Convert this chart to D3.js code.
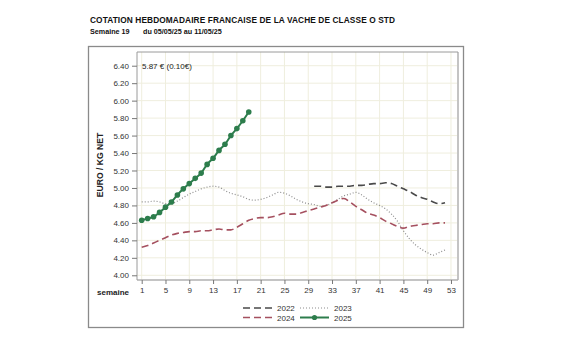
<!DOCTYPE html>
<html>
<head>
<meta charset="utf-8">
<script src="https://cdn.jsdelivr.net/npm/d3@7"></script>
<style>
  html, body { margin: 0; padding: 0; background: #fff; }
  svg { display: block; font-family: "Liberation Sans", Arial, sans-serif; }
</style>
</head>
<body>
<svg id="chart" width="563" height="350"></svg>
<script>
// Weekly price of O-grade cull cows, EUR per kg net (weeks 1..52)
const weeks = d3.range(1, 53);
const yTicks = [4.00, 4.20, 4.40, 4.60, 4.80, 5.00, 5.20, 5.40, 5.60, 5.80, 6.00, 6.20, 6.40];
const xTicks = [1, 5, 9, 13, 17, 21, 25, 29, 33, 37, 41, 45, 49, 53];

// 2022: quoted from week 30 onwards
const start2022 = 30;
const values2022 = [5.02, 5.02, 5.01, 5.01, 5.02, 5.02, 5.02, 5.03, 5.03, 5.04, 5.05, 5.05,
  5.06, 5.05, 5.02, 4.99, 4.96, 4.92, 4.89, 4.87, 4.84, 4.82, 4.83];

const values2023 = [4.84, 4.84, 4.85, 4.84, 4.82, 4.82, 4.85, 4.89, 4.93, 4.96, 4.99, 5.01, 5.02,
  5.01, 4.97, 4.94, 4.92, 4.90, 4.87, 4.86, 4.87, 4.89, 4.92, 4.95, 4.94, 4.91, 4.87, 4.84, 4.82,
  4.81, 4.79, 4.80, 4.83, 4.87, 4.91, 4.93, 4.95, 4.92, 4.87, 4.83, 4.80, 4.76, 4.70, 4.62, 4.51,
  4.42, 4.35, 4.30, 4.26, 4.23, 4.26, 4.29];

const values2024 = [4.32, 4.34, 4.37, 4.40, 4.43, 4.46, 4.48, 4.49, 4.50, 4.50, 4.51, 4.51, 4.52,
  4.53, 4.52, 4.52, 4.55, 4.59, 4.63, 4.65, 4.66, 4.66, 4.67, 4.69, 4.71, 4.70, 4.70, 4.72, 4.74,
  4.76, 4.78, 4.80, 4.83, 4.86, 4.88, 4.84, 4.79, 4.75, 4.71, 4.69, 4.66, 4.62, 4.59, 4.56, 4.54,
  4.56, 4.57, 4.58, 4.59, 4.59, 4.60, 4.60];

const values2025 = [4.63, 4.65, 4.67, 4.72, 4.78, 4.84, 4.92, 4.99, 5.05, 5.11, 5.17, 5.27, 5.34,
  5.43, 5.50, 5.60, 5.68, 5.77, 5.87];

const currentWeek = 19;
const currentPrice = values2025[values2025.length - 1];
const weeklyChange = currentPrice - values2025[values2025.length - 2];

const svg = d3.select("#chart");

// Titles
svg.append("text").attr("x", 90).attr("y", 23)
  .attr("font-size", 8.3).attr("font-weight", "bold").attr("fill", "#111")
  .attr("textLength", 305).attr("lengthAdjust", "spacing")
  .text("COTATION HEBDOMADAIRE FRANCAISE DE LA VACHE DE CLASSE O STD");
svg.append("text").attr("x", 90).attr("y", 34)
  .attr("font-size", 7.2).attr("font-weight", "bold").attr("fill", "#111")
  .text("Semaine " + currentWeek);
svg.append("text").attr("x", 143).attr("y", 34)
  .attr("font-size", 7.2).attr("font-weight", "bold").attr("fill", "#111")
  .text("du 05/05/25 au 11/05/25");

// Outer frame
svg.append("rect").attr("x", 88.5).attr("y", 46.5).attr("width", 375).attr("height", 281)
  .attr("fill", "none").attr("stroke", "#8a8a8a").attr("stroke-width", 1.3);

const plot = { left: 137, top: 52, right: 458, bottom: 280 };

const x = d3.scaleLinear().domain([0.21, 54.18]).range([plot.left, plot.right]);
const y = d3.scaleLinear().domain([3.946, 6.557]).range([plot.bottom, plot.top]);

// Grid
const grid = svg.append("g").attr("stroke", "#efeede").attr("stroke-width", 1);
grid.selectAll("line.v").data(xTicks).join("line")
  .attr("x1", d => x(d)).attr("x2", d => x(d))
  .attr("y1", plot.top).attr("y2", plot.bottom);
grid.selectAll("line.h").data(yTicks).join("line")
  .attr("x1", plot.left).attr("x2", plot.right)
  .attr("y1", d => y(d)).attr("y2", d => y(d));

// Plot frame
svg.append("line").attr("x1", plot.right).attr("x2", plot.right).attr("y1", plot.top).attr("y2", plot.bottom)
  .attr("stroke", "#c4c4c4").attr("stroke-width", 2);
svg.append("line").attr("x1", plot.left).attr("x2", plot.right).attr("y1", plot.bottom).attr("y2", plot.bottom)
  .attr("stroke", "#b0b0b0").attr("stroke-width", 1.5);
svg.append("line").attr("x1", plot.left).attr("x2", plot.right).attr("y1", plot.top).attr("y2", plot.top)
  .attr("stroke", "#9a9a9a").attr("stroke-width", 1);
svg.append("line").attr("x1", plot.left).attr("x2", plot.left).attr("y1", plot.top).attr("y2", plot.bottom)
  .attr("stroke", "#9a9a9a").attr("stroke-width", 1);

// Axes
const yAxis = d3.axisLeft(y).tickValues(yTicks).tickFormat(d3.format(".2f")).tickSize(5).tickPadding(3);
const gy = svg.append("g").attr("transform", `translate(${plot.left},0)`).call(yAxis);
gy.select(".domain").remove();
gy.selectAll("line").attr("stroke", "#777");
gy.selectAll("text").attr("font-size", 8).attr("fill", "#333").attr("font-family", "Liberation Sans, Arial, sans-serif");

const xAxis = d3.axisBottom(x).tickValues(xTicks).tickFormat(d3.format("d")).tickSize(4).tickPadding(3);
const gx = svg.append("g").attr("transform", `translate(0,${plot.bottom})`).call(xAxis);
gx.select(".domain").remove();
gx.selectAll("line").attr("stroke", "#777");
gx.selectAll("text").attr("font-size", 8).attr("fill", "#333").attr("font-family", "Liberation Sans, Arial, sans-serif");

svg.append("text").attr("x", 97).attr("y", 295)
  .attr("font-size", 8).attr("font-weight", "bold").attr("fill", "#222")
  .text("semaine");

svg.append("text")
  .attr("transform", `translate(103,${(plot.top + plot.bottom) / 2 - 1}) rotate(-90)`)
  .attr("text-anchor", "middle")
  .attr("font-size", 8.6).attr("font-weight", "bold").attr("fill", "#222")
  .text("EURO / KG NET");

// Series
const line = d3.line()
  .defined(d => d.v != null)
  .x(d => x(d.w)).y(d => y(d.v))
  .curve(d3.curveMonotoneX);

const s2022 = values2022.map((v, i) => ({ w: start2022 + i, v }));
const s2023 = values2023.map((v, i) => ({ w: weeks[i], v }));
const s2024 = values2024.map((v, i) => ({ w: weeks[i], v }));
const s2025 = values2025.map((v, i) => ({ w: weeks[i], v }));

const styles = {
  "2022": { color: "#4a4a4a", dash: "7,4", width: 1.6 },
  "2023": { color: "#8c8c8c", dash: "1,2", width: 1.2 },
  "2024": { color: "#a5505f", dash: "7,4", width: 1.6 },
  "2025": { color: "#2d7d4c", dash: null, width: 2 }
};

const lines = svg.append("g");
[["2022", s2022], ["2023", s2023], ["2024", s2024], ["2025", s2025]].forEach(([k, data]) => {
  const st = styles[k];
  lines.append("path").datum(data)
    .attr("fill", "none")
    .attr("stroke", st.color)
    .attr("stroke-width", st.width)
    .attr("stroke-dasharray", st.dash)
    .attr("d", line);
});

lines.selectAll("circle").data(s2025).join("circle")
  .attr("cx", d => x(d.w)).attr("cy", d => y(d.v)).attr("r", 2.8)
  .attr("fill", styles["2025"].color);

// Latest price annotation
svg.append("text").attr("x", 142).attr("y", 69)
  .attr("font-size", 8).attr("fill", "#222")
  .text(`${currentPrice.toFixed(2)} € (${weeklyChange.toFixed(2)}€)`);

// Legend
const legendItems = [
  { k: "2022", col: 0, row: 0 },
  { k: "2023", col: 1, row: 0 },
  { k: "2024", col: 0, row: 1 },
  { k: "2025", col: 1, row: 1 }
];
const legend = svg.append("g");
legendItems.forEach(it => {
  const st = styles[it.k];
  const lx = 243 + it.col * 57;
  const ly = 308 + it.row * 9.5;
  legend.append("line").attr("x1", lx).attr("x2", lx + 29).attr("y1", ly).attr("y2", ly)
    .attr("stroke", st.color).attr("stroke-width", st.width)
    .attr("stroke-dasharray", st.dash);
  if (it.k === "2025") {
    legend.append("circle").attr("cx", lx + 14.5).attr("cy", ly).attr("r", 2.6).attr("fill", st.color);
  }
  legend.append("text").attr("x", lx + 34).attr("y", ly + 3)
    .attr("font-size", 8).attr("fill", "#333").text(it.k);
});
</script>
</body>
</html>
